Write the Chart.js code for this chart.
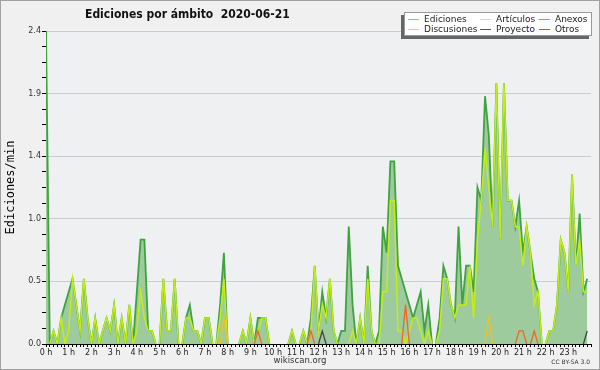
<!DOCTYPE html>
<html>
<head>
<meta charset="utf-8">
<script src="https://cdn.jsdelivr.net/npm/chart.js@4.4.1/dist/chart.umd.min.js"></script>
<style>
  html, body { margin: 0; padding: 0; background: #f0f0f0; }
  #wrap { position: relative; width: 600px; height: 370px; overflow: hidden; }
  #chart { position: absolute; left: 0; top: 0; }
  #frame { position: absolute; left: 0; top: 0; width: 598px; height: 368px; border: 1px solid #a0a0a0; pointer-events: none; }
  #title { position: absolute; left: 85px; top: 7px; font: bold 12px 'DejaVu Sans'; font-stretch: condensed; color: #111; white-space: pre; }
  #legend { position: absolute; left: 404px; top: 12px; width: 186px; height: 22px; background: #fff; border: 1px solid #999; box-shadow: -3px 3px 0 #666; }
  #legend .item { position: absolute; height: 10px; line-height: 10px; font: 9px 'DejaVu Sans'; color: #222; white-space: nowrap; }
  #legend .item i { display: inline-block; width: 11px; height: 1px; vertical-align: middle; margin-right: 5px; }
  #site { position: absolute; left: 0; width: 600px; top: 355px; text-align: center; font: 8.5px 'DejaVu Sans'; color: #333; }
  #lic { position: absolute; right: 10px; top: 358px; font: 6px 'DejaVu Sans'; color: #333; }
</style>
</head>
<body>
<div id="wrap">
  <canvas id="chart" width="600" height="370"></canvas>
  <div id="title">Ediciones por ámbito  2020-06-21</div>
  <div id="legend">
    <div class="item" style="left:3px;top:1px"><i style="background:#88c888"></i>Ediciones</div>
    <div class="item" style="left:75px;top:1px"><i style="background:#d2f05a"></i>Artículos</div>
    <div class="item" style="left:134px;top:1px"><i style="background:#f07c4a"></i>Anexos</div>
    <div class="item" style="left:3px;top:11px"><i style="background:#f8d04a"></i>Discusiones</div>
    <div class="item" style="left:75px;top:11px"><i style="background:#555"></i>Proyecto</div>
    <div class="item" style="left:134px;top:11px"><i style="background:#9b4dea"></i>Otros</div>
  </div>
  <div id="site">wikiscan.org</div>
  <div id="lic">CC BY-SA 3.0</div>
  <div id="frame"></div>
</div>
<script>
// Ediciones por minuto, cada 10 minutos (144 tramos del día)
const hourLabels = ['0 h', '1 h', '2 h', '3 h', '4 h', '5 h', '6 h', '7 h', '8 h', '9 h', '10 h', '11 h',
                    '12 h', '13 h', '14 h', '15 h', '16 h', '17 h', '18 h', '19 h', '20 h', '21 h', '22 h', '23 h'];
const yLabels = ['0.0', '0.5', '1.0', '1.4', '1.9', '2.4'];

const ediciones = [
  2.4, 0, 0.1, 0, 0.2, 0.3, 0.4, 0.5, 0.3, 0.1, 0.5, 0.2, 0, 0.2, 0, 0.1, 0.2, 0.1, 0.3, 0, 0.2, 0, 0.3, 0,
  0.4, 0.8, 0.8, 0.1, 0.1, 0, 0, 0.5, 0.1, 0.1, 0.5, 0, 0, 0.2, 0.3, 0.1, 0.1, 0, 0.2, 0.2, 0, 0, 0.3, 0.7,
  0, 0, 0, 0, 0.1, 0, 0.2, 0, 0.2, 0.2, 0.2, 0, 0, 0, 0, 0, 0, 0.1, 0, 0, 0.1, 0, 0.2, 0.6,
  0.1, 0.4, 0.2, 0.5, 0.1, 0, 0.1, 0.1, 0.9, 0.3, 0, 0.2, 0, 0.6, 0.1, 0, 0.1, 0.9, 0.7, 1.4, 1.4, 0.6, 0.5, 0.4,
  0.3, 0.2, 0.3, 0.4, 0.1, 0.3, 0, 0, 0.2, 0.6, 0.5, 0.3, 0.2, 0.9, 0.3, 0.6, 0.6, 0.4, 1.2, 1.1, 1.9, 1.6, 0.9, 2.0,
  0.8, 2.0, 1.1, 1.1, 0.9, 1.1, 0.7, 0.9, 0.7, 0.5, 0.4, 0, 0, 0.1, 0.1, 0.3, 0.8, 0.7, 0.4, 1.3, 0.6, 1.0, 0.4, 0.5
];
const articulos = [
  0, 0, 0.1, 0, 0.2, 0, 0.1, 0.5, 0.3, 0.1, 0.5, 0.2, 0, 0.2, 0, 0.1, 0.2, 0.1, 0.3, 0, 0.2, 0, 0.3, 0,
  0.1, 0.4, 0.2, 0.1, 0.1, 0, 0, 0.5, 0.1, 0.1, 0.5, 0, 0, 0.2, 0.2, 0.1, 0.1, 0, 0.2, 0.2, 0, 0, 0.2, 0.5,
  0, 0, 0, 0, 0.1, 0, 0.2, 0, 0.1, 0.2, 0.2, 0, 0, 0, 0, 0, 0, 0.1, 0, 0, 0.1, 0, 0.1, 0.6,
  0.1, 0.3, 0.2, 0.5, 0.1, 0, 0, 0, 0, 0.1, 0, 0.2, 0, 0.5, 0.1, 0, 0, 0.4, 0.4, 1.1, 1.1, 0.1, 0.1, 0,
  0.1, 0.2, 0.2, 0.1, 0, 0.1, 0, 0, 0.1, 0.5, 0.5, 0.3, 0.2, 0.3, 0.3, 0.3, 0.6, 0.2, 0.8, 1.1, 1.5, 1.2, 0.9, 2.0,
  0.8, 2.0, 1.1, 1.1, 0.9, 0.9, 0.6, 0.9, 0.7, 0.3, 0.4, 0, 0, 0.1, 0.1, 0.3, 0.8, 0.7, 0.4, 1.3, 0.6, 0.8, 0.4, 0.4
];
const anexos = [
  0, 0, 0, 0, 0, 0, 0, 0, 0, 0, 0, 0, 0, 0, 0, 0, 0, 0, 0, 0, 0, 0, 0, 0,
  0, 0, 0, 0, 0, 0, 0, 0, 0, 0, 0, 0, 0, 0, 0, 0, 0, 0, 0, 0, 0, 0, 0, 0,
  0, 0, 0, 0, 0, 0, 0, 0, 0.1, 0, 0, 0, 0, 0, 0, 0, 0, 0, 0, 0, 0, 0, 0.1, 0,
  0, 0, 0, 0, 0, 0, 0, 0, 0, 0, 0, 0, 0, 0, 0, 0, 0, 0, 0, 0, 0, 0, 0, 0.3,
  0, 0, 0, 0, 0, 0, 0, 0, 0, 0, 0, 0, 0, 0, 0, 0, 0, 0, 0, 0, 0, 0, 0, 0,
  0, 0, 0, 0, 0, 0.1, 0.1, 0, 0, 0.1, 0, 0, 0, 0, 0, 0, 0, 0, 0, 0, 0, 0, 0, 0
];
const discusiones = [
  0, 0, 0, 0, 0, 0, 0, 0, 0, 0, 0, 0, 0, 0, 0, 0, 0, 0, 0, 0, 0, 0, 0, 0,
  0, 0, 0, 0, 0, 0, 0, 0, 0, 0, 0, 0, 0, 0, 0, 0, 0, 0, 0, 0, 0, 0, 0, 0.2,
  0, 0, 0, 0, 0, 0, 0, 0, 0, 0, 0, 0, 0, 0, 0, 0, 0, 0, 0, 0, 0, 0, 0, 0,
  0, 0, 0, 0, 0, 0, 0, 0, 0, 0, 0, 0, 0, 0, 0, 0, 0, 0, 0, 0, 0, 0, 0, 0,
  0, 0, 0, 0, 0, 0, 0, 0, 0, 0, 0, 0, 0, 0, 0, 0, 0, 0, 0, 0, 0, 0.2, 0, 0,
  0, 0, 0, 0, 0, 0, 0, 0, 0, 0, 0, 0, 0, 0, 0, 0, 0, 0, 0, 0, 0, 0, 0, 0
];
const proyecto = [
  0, 0, 0, 0, 0, 0, 0, 0, 0, 0, 0, 0, 0, 0, 0, 0, 0, 0, 0, 0, 0, 0, 0, 0,
  0, 0, 0, 0, 0, 0, 0, 0, 0, 0, 0, 0, 0, 0, 0, 0, 0, 0, 0, 0, 0, 0, 0, 0,
  0, 0, 0, 0, 0, 0, 0, 0, 0, 0, 0, 0, 0, 0, 0, 0, 0, 0, 0, 0, 0, 0, 0, 0,
  0, 0.1, 0, 0, 0, 0, 0, 0, 0, 0, 0, 0, 0, 0, 0, 0, 0, 0, 0, 0, 0, 0, 0, 0,
  0, 0, 0, 0, 0, 0, 0, 0, 0, 0, 0, 0, 0, 0, 0, 0, 0, 0, 0, 0, 0, 0, 0, 0,
  0, 0, 0, 0, 0, 0, 0, 0, 0, 0, 0, 0, 0, 0, 0, 0, 0, 0, 0, 0, 0, 0, 0, 0.1
];
const otros = [
  0, 0, 0, 0, 0, 0, 0, 0, 0, 0, 0, 0, 0, 0, 0, 0, 0, 0, 0, 0, 0, 0, 0, 0,
  0, 0, 0, 0, 0, 0, 0, 0, 0, 0, 0, 0, 0, 0, 0, 0, 0, 0, 0, 0, 0, 0, 0, 0,
  0, 0, 0, 0, 0, 0, 0, 0, 0, 0, 0, 0, 0, 0, 0, 0, 0, 0, 0, 0, 0, 0, 0, 0,
  0, 0, 0, 0, 0, 0, 0, 0, 0, 0, 0, 0, 0, 0, 0, 0, 0, 0, 0, 0, 0, 0, 0, 0,
  0, 0, 0, 0, 0, 0, 0, 0, 0, 0, 0, 0, 0, 0, 0, 0, 0, 0, 0, 0, 0, 0, 0, 0,
  0, 0, 0, 0, 0, 0, 0, 0, 0, 0, 0, 0, 0, 0, 0, 0, 0, 0, 0, 0, 0, 0, 0, 0
];

// x = número de tramo de 10 min
const pts = arr => arr.map((v, i) => ({ x: i, y: v }));

// no pintar los tramos que van pegados al eje (0 -> 0)
const hideFlat = { borderColor: c => (c.p0.parsed.y === 0 && c.p1.parsed.y === 0) ? 'rgba(0,0,0,0)' : undefined };

const fondo = {
  id: 'fondo',
  beforeDraw(chart) {
    const { ctx, chartArea: a } = chart;
    ctx.save();
    ctx.fillStyle = '#f0f0f0';
    ctx.fillRect(0, 0, chart.width, chart.height);
    ctx.fillStyle = '#eff0f2';
    ctx.fillRect(a.left, a.top, a.right - a.left, a.bottom - a.top);
    ctx.restore();
  }
};

const tickFont = { family: 'DejaVu Sans', size: 8 };

new Chart(document.getElementById('chart'), {
  type: 'line',
  data: {
    datasets: [
      { label: 'Ediciones', data: pts(ediciones), borderColor: '#3fa33f', borderWidth: 1.8,
        backgroundColor: '#9ecb9e', fill: 'origin', order: 6, segment: hideFlat },
      { label: 'Artículos', data: pts(articulos), borderColor: '#c2ee14', borderWidth: 1.5,
        fill: false, order: 5, segment: hideFlat },
      { label: 'Discusiones', data: pts(discusiones), borderColor: '#f2c21a', borderWidth: 1.3,
        fill: false, order: 4, segment: hideFlat },
      { label: 'Anexos', data: pts(anexos), borderColor: '#f26522', borderWidth: 1.3,
        fill: false, order: 3, segment: hideFlat },
      { label: 'Proyecto', data: pts(proyecto), borderColor: '#444444', borderWidth: 1.3,
        fill: false, order: 2, segment: hideFlat },
      { label: 'Otros', data: pts(otros), borderColor: '#9b4dea', borderWidth: 1.3,
        fill: false, order: 1, segment: hideFlat }
    ]
  },
  options: {
    responsive: false,
    animation: false,
    devicePixelRatio: 1,
    layout: { padding: { left: 0, top: 31, right: 9, bottom: 0 } },
    elements: { point: { radius: 0 }, line: { tension: 0 } },
    plugins: { legend: { display: false }, tooltip: { enabled: false } },
    scales: {
      x: {
        type: 'linear', min: 0, max: 144,
        afterFit: s => { s.height = 26; },
        ticks: {
          stepSize: 1, autoSkip: false, maxRotation: 0, padding: 1,
          font: tickFont, color: '#222',
          callback: v => (v % 6 === 0 && v < 144) ? hourLabels[v / 6] : ''
        },
        grid: { drawOnChartArea: false, tickLength: 3, tickColor: '#000' },
        border: { color: '#000' }
      },
      y: {
        min: 0, max: 2.4,
        afterFit: s => { s.width = 46; },
        ticks: {
          stepSize: 0.12, autoSkip: false, padding: 1,
          font: tickFont, color: '#333',
          callback: (v, i) => (i % 4 === 0) ? yLabels[i / 4] : ''
        },
        grid: {
          color: c => (c.index % 4 === 0) ? '#cccccc' : 'rgba(0,0,0,0)',
          tickColor: '#000', tickLength: 4
        },
        border: { color: '#000' },
        title: {
          display: true, text: 'Ediciones/min', color: '#000',
          font: { family: 'DejaVu Sans Mono', size: 12 }, padding: { top: 4, bottom: 0 }
        }
      }
    }
  },
  plugins: [fondo]
});
</script>
</body>
</html>
